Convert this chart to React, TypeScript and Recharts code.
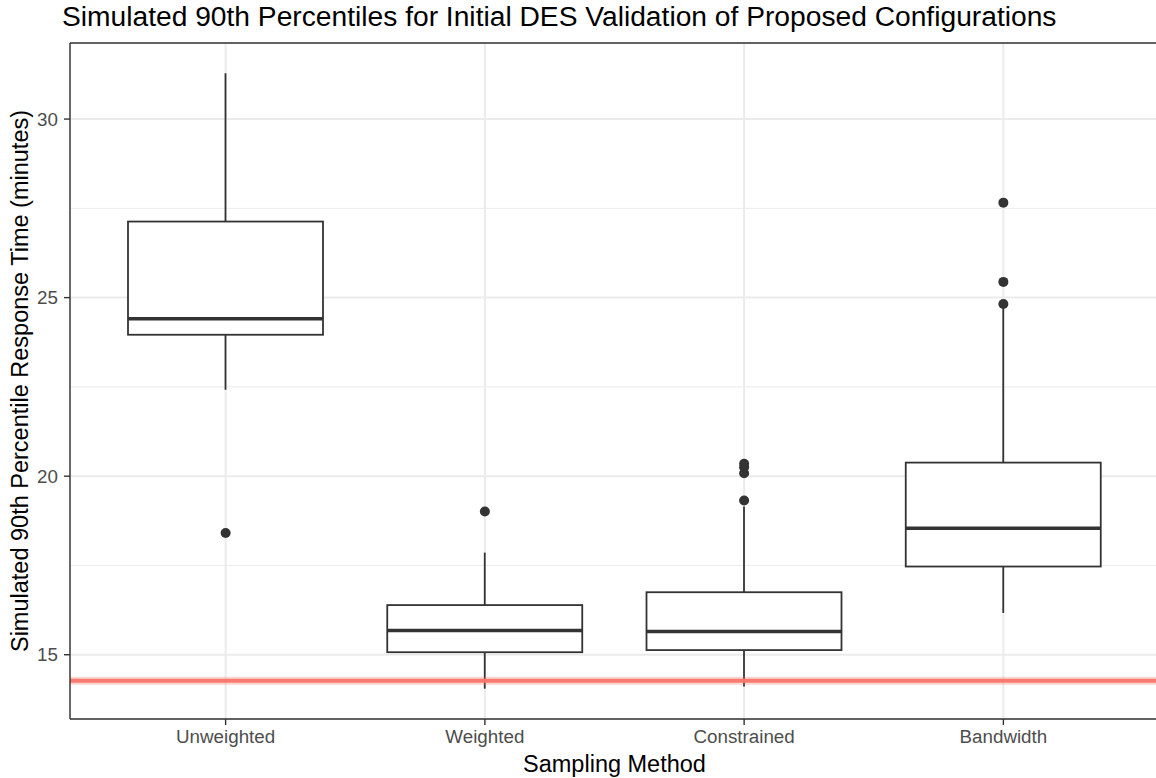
import React from 'react';
import {
  ComposedChart,
  Bar,
  Scatter,
  XAxis,
  YAxis,
  CartesianGrid,
  ReferenceLine,
  Label,
} from 'recharts';

// ---- data ----
const categories = ['Unweighted', 'Weighted', 'Constrained', 'Bandwidth'];
const lowerWhisker = [22.42, 14.05, 14.11, 16.17];
const firstQuartile = [23.96, 15.07, 15.13, 17.47];
const medians = [24.41, 15.68, 15.65, 18.54];
const thirdQuartile = [27.13, 16.39, 16.75, 20.38];
const upperWhisker = [31.28, 17.86, 19.15, 24.72];
const outliers = [[18.41], [19.01], [19.32, 20.08, 20.25, 20.35], [24.82, 25.44, 27.66]];
const targetValue = 14.27;
const yTicks = [15, 20, 25, 30];
const yMinorTicks = [17.5, 22.5, 27.5];
const yDomain: [number, number] = [13.2, 32.13];

const title = 'Simulated 90th Percentiles for Initial DES Validation of Proposed Configurations';
const xTitle = 'Sampling Method';
const yTitle = 'Simulated 90th Percentile Response Time (minutes)';

const boxData = categories.map((name, i) => ({
  name,
  lower: lowerWhisker[i],
  q1: firstQuartile[i],
  median: medians[i],
  q3: thirdQuartile[i],
  upper: upperWhisker[i],
}));

const outlierData = categories.flatMap((name, i) => outliers[i].map((value) => ({ name, value })));

const FONT = '"Liberation Sans", Arial, Helvetica, sans-serif';
const DARK = '#333333';
const TICK_FONT = 18.8;
const AXIS_TITLE_FONT = 23.5;
const TITLE_FONT = 28.2;

const BoxShape = (props: any) => {
  const { x, y, width, height, payload } = props;
  if (!payload || height === undefined) return null;
  const top = Math.min(y, y + height);
  const h = Math.abs(height);
  const k = h / (payload.q3 - payload.q1);
  const py = (v: number) => top + (payload.q3 - v) * k;
  const cx = x + width / 2;
  return (
    <g>
      <line x1={cx} x2={cx} y1={py(payload.upper)} y2={top} stroke={DARK} strokeWidth={1.8} />
      <line x1={cx} x2={cx} y1={top + h} y2={py(payload.lower)} stroke={DARK} strokeWidth={1.8} />
      <rect x={x} y={top} width={width} height={h} fill="#ffffff" stroke={DARK} strokeWidth={1.8} />
      <line x1={x} x2={x + width} y1={py(payload.median)} y2={py(payload.median)} stroke={DARK} strokeWidth={3.6} />
    </g>
  );
};

const OutlierDot = (props: any) => {
  const { cx, cy } = props;
  if (cx === undefined || cy === undefined) return null;
  return <circle cx={cx} cy={cy} r={5} fill={DARK} />;
};

const YTitle = (props: any) => {
  const vb = props.viewBox || {};
  const x = (vb.x ?? 0) + 27.5;
  const y = (vb.y ?? 0) + (vb.height ?? 0) / 2;
  return (
    <text
      x={x}
      y={y}
      transform={`rotate(-90, ${x}, ${y})`}
      textAnchor="middle"
      fontSize={AXIS_TITLE_FONT}
      fontFamily={FONT}
      fill="#000"
    >
      {yTitle}
    </text>
  );
};

export default function App() {
  return (
    <div
      style={{
        position: 'absolute',
        left: 0,
        top: 0,
        width: 1156,
        height: 778,
        overflow: 'hidden',
        background: '#ffffff',
        fontFamily: FONT,
      }}
    >
      <div
        style={{
          position: 'absolute',
          left: 62,
          top: 2,
          fontSize: TITLE_FONT,
          lineHeight: `${TITLE_FONT}px`,
          color: '#000',
          whiteSpace: 'nowrap',
          fontFamily: FONT,
        }}
      >
        {title}
      </div>
      <ComposedChart
        width={1170}
        height={778}
        data={boxData}
        margin={{ top: 43, right: 11, bottom: 0, left: 0 }}
        style={{ position: 'absolute', left: 0, top: 0 }}
      >
        <CartesianGrid stroke="#EBEBEB" strokeWidth={2} />
        <CartesianGrid yAxisId="minor" stroke="#EBEBEB" strokeWidth={1} vertical={false} />
        <XAxis
          dataKey="name"
          type="category"
          allowDuplicatedCategory={false}
          padding={{ left: 26, right: 26 }}
          height={59}
          tickSize={6}
          tickMargin={5}
          axisLine={{ stroke: DARK, strokeWidth: 1.4 }}
          tickLine={{ stroke: DARK, strokeWidth: 1.4 }}
          tick={{ fontSize: TICK_FONT, fill: '#4D4D4D', fontFamily: FONT }}
        >
          <Label
            value={xTitle}
            position="insideBottom"
            offset={6}
            style={{ fontSize: AXIS_TITLE_FONT, fill: '#000', fontFamily: FONT }}
          />
        </XAxis>
        <YAxis
          type="number"
          domain={yDomain}
          allowDataOverflow
          ticks={yTicks}
          width={70}
          tickSize={6}
          tickMargin={6}
          axisLine={{ stroke: DARK, strokeWidth: 1.4 }}
          tickLine={{ stroke: DARK, strokeWidth: 1.4 }}
          tick={{ fontSize: TICK_FONT, fill: '#4D4D4D', fontFamily: FONT }}
        >
          <Label content={<YTitle />} />
        </YAxis>
        <YAxis yAxisId="minor" type="number" domain={yDomain} allowDataOverflow ticks={yMinorTicks} hide />
        <Bar
          dataKey={(d: any) => [d.q1, d.q3]}
          barSize={195}
          shape={<BoxShape />}
          isAnimationActive={false}
        />
        <Scatter data={outlierData} dataKey="value" shape={<OutlierDot />} isAnimationActive={false} />
        <ReferenceLine y={targetValue} stroke="#F8766D" strokeOpacity={0.3} strokeWidth={8} />
        <ReferenceLine y={targetValue} stroke="#F8766D" strokeOpacity={0.95} strokeWidth={4} />
        <ReferenceLine y={yDomain[1]} stroke={DARK} strokeWidth={1.4} />
      </ComposedChart>
    </div>
  );
}
